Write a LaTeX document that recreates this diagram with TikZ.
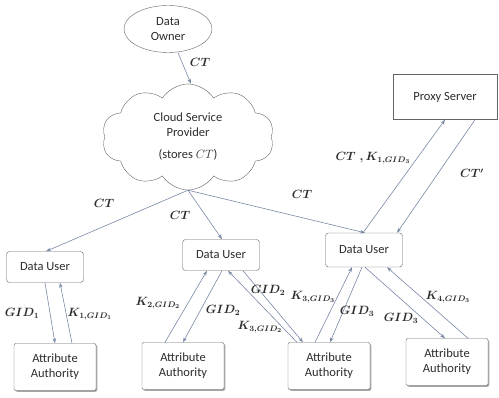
\documentclass[tikz,border=0pt]{standalone}
\usepackage{amsmath}
\usepackage{fontspec}
\setsansfont{Carlito}
\usepackage{tikz}
\usetikzlibrary{shapes,arrows.meta,shadows}
\definecolor{linec}{RGB}{120,136,165}
\definecolor{boxc}{RGB}{100,100,100}
\definecolor{txtc}{RGB}{45,45,45}

\begin{document}
\begin{tikzpicture}[x=1pt,y=-1pt,
  box/.style={draw=boxc,fill=white,text=txtc,align=center,font=\sffamily\fontsize{12.5}{15}\selectfont},
  user/.style={box,rounded corners=3pt,minimum width=77pt,minimum height=31pt},
  auth/.style={box,rounded corners=2pt,minimum width=82pt,minimum height=47pt,
    drop shadow={shadow xshift=1.3pt,shadow yshift=-1.3pt,fill=gray!70,opacity=1}},
  arr/.style={draw=linec,semithick,-{Stealth[length=5pt,width=3.5pt]}},
  lbl/.style={text=txtc,font=\boldmath\fontsize{11.5}{13}\selectfont}]
\useasboundingbox (0,0) rectangle (499,398);

\node[box,ellipse,minimum width=88pt,minimum height=47pt,inner sep=1pt] (own) at (168,29) {Data\\Owner};
\node[box,cloud,cloud puffs=10,cloud puff arc=115,cloud ignores aspect,minimum width=172pt,minimum height=106pt] (csp) at (188,137) {Cloud Service\\Provider\\[7pt](stores $CT$)};
\node[box,minimum width=104pt,minimum height=45pt] (proxy) at (445,97) {Proxy Server};

\node[user] (du1) at (45,267) {Data User};
\node[user] (du2) at (221,255) {Data User};
\node[user,minimum height=34pt] (du3) at (364,250) {Data User};

\node[auth] (aa1) at (55,367) {Attribute\\Authority};
\node[auth] (aa2) at (183,366) {Attribute\\Authority};
\node[auth] (aa3) at (329,366) {Attribute\\Authority};
\node[auth] (aa4) at (447,362) {Attribute\\Authority};

\draw[arr] ([xshift=10pt]own.south) -- ([xshift=3pt]csp.north);
\draw[arr] (csp.south) -- ([xshift=1pt]du1.north);
\draw[arr] (csp.south) -- ([xshift=1pt]du2.north);
\draw[arr] (csp.south) -- ([xshift=1pt]du3.north);

\draw[arr] ([xshift=-1pt]du3.north) -- (proxy.south);
\draw[arr] ([xshift=30pt]proxy.south) -- ([xshift=33pt]du3.north);

\draw[arr] (du1.south) -- (aa1.north);
\draw[arr] ([xshift=17pt]aa1.north) -- ([xshift=15pt]du1.south);

\draw[arr] ([xshift=-18pt]aa2.north) -- ([xshift=-14pt]du2.south);
\draw[arr] ([xshift=1pt]du2.south) -- (aa2.north);
\draw[arr] ([xshift=-32pt]aa3.north) -- ([xshift=7pt]du2.south);
\draw[arr] ([xshift=22pt]du2.south) -- ([xshift=-26pt]aa3.north);

\draw[arr] ([xshift=-14pt]aa3.north) -- ([xshift=-12pt]du3.south);
\draw[arr] ([xshift=-2pt]du3.south) -- ([xshift=1pt]aa3.north);
\draw[arr] ([xshift=1pt]du3.south) -- ([xshift=-2pt]aa4.north);
\draw[arr] ([xshift=21pt]aa4.north) -- ([xshift=23pt]du3.south);

\node[lbl] (l0) at (200,62) {$CT$};
\node[lbl] (l1) at (104,203) {$CT$};
\node[lbl] (l2) at (180,215) {$CT$};
\node[lbl] (l3) at (302,194) {$CT$};
\node[lbl] (l4) at (373,158) {$CT\;,K_{1,GID_3}$};
\node[lbl] (l5) at (472,173) {$CT'$};
\node[lbl] (l6) at (22,313) {$GID_1$};
\node[lbl] (l7) at (90,314) {$K_{1,GID_1}$};
\node[lbl] (l8) at (158,303) {$K_{2,GID_2}$};
\node[lbl] (l9) at (223,310) {$GID_2$};
\node[lbl] (l10) at (268,290) {$GID_2$};
\node[lbl] (l11) at (260,327) {$K_{3,GID_2}$};
\node[lbl] (l12) at (313,297) {$K_{3,GID_3}$};
\node[lbl] (l13) at (357,311) {$GID_3$};
\node[lbl] (l14) at (401,318) {$GID_3$};
\node[lbl] (l15) at (448,297) {$K_{4,GID_3}$};
\end{tikzpicture}
\end{document}
